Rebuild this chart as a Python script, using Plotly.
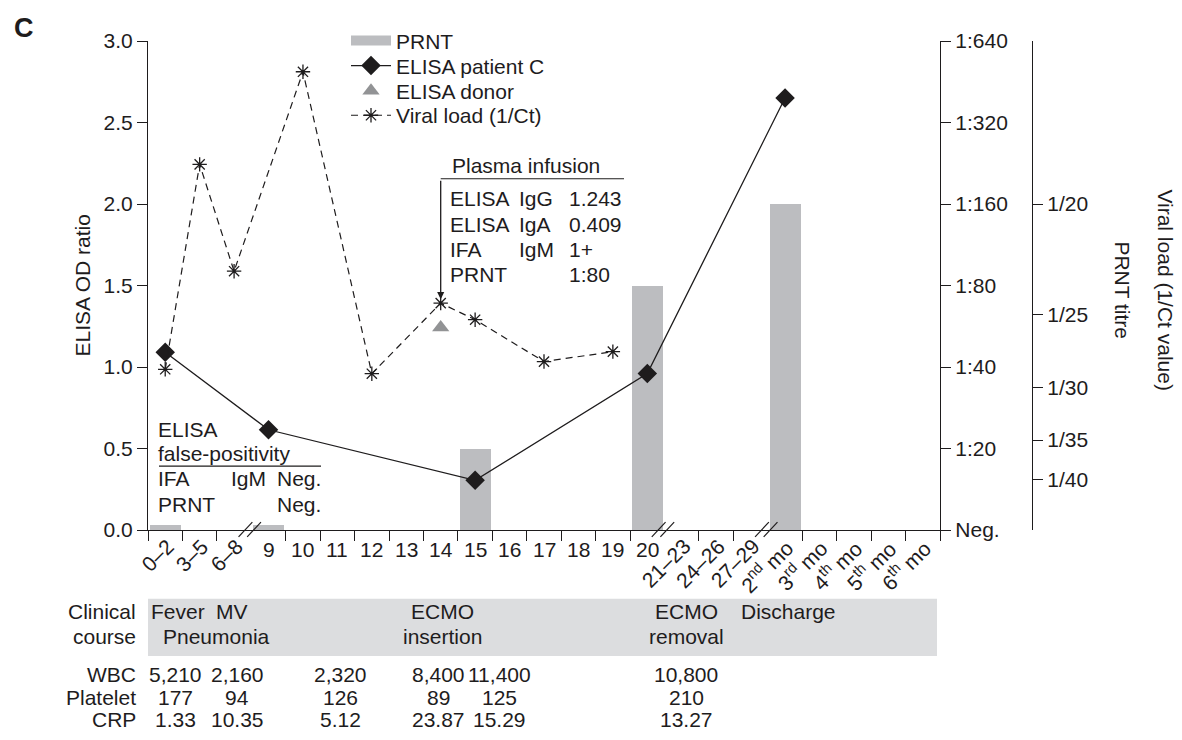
import math
import plotly.graph_objects as go

# ---------------- data ----------------
categories = ["0–2", "3–5", "6–8", "9", "10", "11", "12", "13", "14", "15", "16", "17",
              "18", "19", "20", "21–23", "24–26", "27–29", "2<sup>nd</sup> mo",
              "3<sup>rd</sup> mo", "4<sup>th</sup> mo", "5<sup>th</sup> mo", "6<sup>th</sup> mo"]
rotated_labels = ["0–2", "3–5", "6–8", "21–23", "24–26", "27–29", "2<sup>nd</sup> mo",
                  "3<sup>rd</sup> mo", "4<sup>th</sup> mo", "5<sup>th</sup> mo", "6<sup>th</sup> mo"]

# PRNT titre (reciprocal); 10 = "Neg." axis floor, Neg. results drawn as thin stubs
prnt_days = ["0–2", "9", "15", "20", "2<sup>nd</sup> mo"]
prnt_titre = [10.4, 10.4, 20, 80, 160]

elisa_days = ["0–2", "9", "15", "20", "2<sup>nd</sup> mo"]
elisa_od = [1.09, 0.615, 0.305, 0.96, 2.65]

donor_days = ["14"]
donor_od = [1.243]

viral_days = ["0–2", "3–5", "6–8", "10", "12", "14", "15", "17", "19"]
viral_inv_ct = [0.0350, 0.0536, 0.0439, 0.0620, 0.0346, 0.0410, 0.0395, 0.0357, 0.0366]

prnt_ticks = [10, 20, 40, 80, 160, 320, 640]
prnt_ticktext = ["Neg.", "1:20", "1:40", "1:80", "1:160", "1:320", "1:640"]
viral_ticks = [1 / 20, 1 / 25, 1 / 30, 1 / 35, 1 / 40]
viral_ticktext = ["1/20", "1/25", "1/30", "1/35", "1/40"]
elisa_ticks = [0.0, 0.5, 1.0, 1.5, 2.0, 2.5, 3.0]

plasma_rows = [["ELISA", "IgG", "1.243"], ["ELISA", "IgA", "0.409"],
               ["IFA", "IgM", "1+"], ["PRNT", "", "1:80"]]
false_pos_rows = [["IFA", "IgM", "Neg."], ["PRNT", "", "Neg."]]

course_row1 = ["Fever", "MV", "ECMO", "ECMO", "Discharge"]
course_row2 = ["Pneumonia", "insertion", "removal"]
lab_names = ["WBC", "Platelet", "CRP"]
wbc = ["5,210", "2,160", "2,320", "8,400", "11,400", "10,800"]
platelet = ["177", "94", "126", "89", "125", "210"]
crp = ["1.33", "10.35", "5.12", "23.87", "15.29", "13.27"]

# ---------------- layout constants ----------------
OFF = 8                      # page body margin of the browser
W, H = 1182 - OFF, 740 - OFF
L, R, T, B = 140, 142, 25, 210
PW, PH = W - L - R, H - T - B
INK = "#1e1c1d"
BAR = "#bcbdc0"
FONT = "Liberation Sans, Arial, sans-serif"
FS = 21


def px_x(px):  # screen pixel -> paper x
    return (px - OFF - L) / PW


def px_y(py):  # screen pixel -> paper y
    return (H - B - (py - OFF)) / PH


idx = {c: i for i, c in enumerate(categories)}
breaks = [2.5, 14.5, 17.5]
boundaries = [i - 0.5 for i in range(len(categories) + 1)]
tick_bounds = [b for b in boundaries if b not in breaks]
CAT_W = (940 - 148) / len(categories)


def px_idx(px):  # screen pixel -> x data units
    return (px - 148) / CAT_W - 0.5


# linear mapping of the 1/Ct axis onto the ELISA scale (0..3)
vl_a, vl_b = 67.6, -1.38
viral_range = [(0 - vl_b) / vl_a, (3 - vl_b) / vl_a]

fig = go.Figure()
fig.add_trace(go.Bar(
    x=[idx[d] for d in prnt_days], y=prnt_titre, yaxis="y", width=0.9,
    marker=dict(color=BAR, line=dict(width=0)), name="PRNT", showlegend=False))
# legend key for PRNT (wide grey swatch)
fig.add_trace(go.Scatter(x=[None], y=[None], yaxis="y", mode="lines", name="PRNT",
                         line=dict(color=BAR, width=10), legend="legend"))
fig.add_trace(go.Scatter(
    x=[idx[d] for d in elisa_days], y=elisa_od, yaxis="y2", mode="lines+markers",
    name="ELISA patient C", line=dict(color=INK, width=1.3),
    marker=dict(symbol="diamond", size=15, color=INK), legend="legend2"))
fig.add_trace(go.Scatter(
    x=[idx[d] for d in donor_days], y=donor_od, yaxis="y2", mode="markers",
    name="ELISA donor", marker=dict(symbol="triangle-up", size=15, color="#929395"),
    legend="legend3"))
fig.add_trace(go.Scatter(
    x=[idx[d] for d in viral_days], y=viral_inv_ct, yaxis="y3", mode="lines+markers",
    name="Viral load (1/Ct)", line=dict(color=INK, width=1.2, dash="7px,5px"),
    marker=dict(symbol="asterisk-open", size=12, color=INK, line=dict(width=1.3, color=INK)),
    legend="legend4"))

ax_common = dict(showline=True, linecolor=INK, linewidth=1.2, ticks="outside", ticklen=10,
                 tickwidth=1.2, tickcolor=INK, showgrid=False, zeroline=False,
                 tickfont=dict(size=FS, color=INK))


def leg(center_y):
    return dict(x=px_x(346), y=px_y(center_y - 20), xanchor="left", yanchor="top",
                bgcolor="rgba(0,0,0,0)", font=dict(size=FS, color=INK), itemwidth=40)


fig.update_layout(
    width=W, height=H, margin=dict(l=L, r=R, t=T, b=B),
    paper_bgcolor="white", plot_bgcolor="white",
    font=dict(family=FONT, size=FS, color=INK),
    bargap=0,
    xaxis=dict(domain=[0, px_x(940)], range=[-0.5, len(categories) - 0.5],
               tickmode="array", tickvals=tick_bounds, showticklabels=False, **ax_common),
    yaxis=dict(type="log", range=[1, math.log10(640)], side="right", anchor="x",
               tickmode="array", tickvals=prnt_ticks, ticktext=prnt_ticktext, **ax_common),
    yaxis2=dict(overlaying="y", side="left", anchor="x", range=[0, 3],
                tickmode="array", tickvals=elisa_ticks, tickformat=".1f", **ax_common),
    yaxis3=dict(overlaying="y", side="right", anchor="free", position=px_x(1032),
                range=viral_range, tickmode="array", tickvals=viral_ticks,
                ticktext=viral_ticktext, **ax_common),
    showlegend=True,
    legend=leg(32), legend2=leg(57.5), legend3=leg(83), legend4=leg(108),
)

ann = []


def txt(text, x, y, xref="x", yref="y2", xanchor="left", yanchor="middle", size=FS,
        angle=0, bold=False):
    ann.append(dict(text=f"<b>{text}</b>" if bold else text, x=x, y=y, xref=xref, yref=yref,
                    xanchor=xanchor, yanchor=yanchor, showarrow=False, textangle=angle,
                    font=dict(size=size, color=INK, family=FONT)))


# x tick labels
for c in categories:
    if c in rotated_labels:
        txt(c, idx[c] + 0.45, px_y(532), yref="paper", xanchor="right", yanchor="top", angle=-45)
    else:
        txt(c, idx[c], px_y(536), yref="paper", xanchor="center", yanchor="top")

# panel letter and axis titles
txt("C", px_x(12), px_y(20), xref="paper", yref="paper", size=27, bold=True)
txt("ELISA OD ratio", px_x(82), 0.5, xref="paper", yref="paper", xanchor="center", angle=-90)
txt("PRNT titre", px_x(1123), 0.49, xref="paper", yref="paper", xanchor="center", angle=90)
txt("Viral load (1/Ct value)", px_x(1166), 0.49, xref="paper", yref="paper",
    xanchor="center", angle=90)

# plasma infusion call-out
txt("Plasma infusion", px_idx(450), 2.235)
plasma_y = [2.034, 1.877, 1.722, 1.569]
plasma_cols = [px_idx(448), px_idx(517), px_idx(567)]
for row, yy in zip(plasma_rows, plasma_y):
    for cell, xx in zip(row, plasma_cols):
        if cell:
            txt(cell, xx, yy)
shapes = [dict(type="line", xref="x", yref="y2", x0=idx["14"], x1=px_idx(624),
               y0=2.155, y1=2.155, line=dict(color=INK, width=1.2))]
ann.append(dict(x=idx["14"], y=viral_inv_ct[viral_days.index("14")], xref="x", yref="y3",
                ax=0, ay=-124, text="", showarrow=True, arrowhead=2, arrowsize=1.1,
                arrowwidth=1.3, arrowcolor=INK, standoff=4))

# false positivity box
txt("ELISA", px_idx(156), 0.616)
txt("false-positivity", px_idx(156), 0.471)
shapes.append(dict(type="line", xref="x", yref="y2", x0=px_idx(159), x1=px_idx(321),
                   y0=0.392, y1=0.392, line=dict(color=INK, width=1.2)))
fp_cols = [px_idx(156), px_idx(229), px_idx(275)]
for row, yy in zip(false_pos_rows, [0.314, 0.157]):
    for cell, xx in zip(row, fp_cols):
        if cell:
            txt(cell, xx, yy)

# axis break marks
for b in breaks:
    for off in (-0.2, 0.05):
        shapes.append(dict(type="line", xref="x", yref="paper", x0=b + off - 0.17,
                           x1=b + off + 0.23, y0=px_y(537), y1=px_y(522),
                           line=dict(color=INK, width=1.2)))

# clinical course band
shapes.append(dict(type="rect", xref="paper", yref="paper", x0=0, x1=px_x(937),
                   y0=px_y(658), y1=px_y(600), fillcolor="#dcdddf", line=dict(width=0),
                   layer="below"))
row_y = [px_y(613), px_y(638), px_y(677), px_y(700), px_y(723)]
txt("Clinical", px_x(138), row_y[0], xref="paper", yref="paper", xanchor="right")
txt("course", px_x(138), row_y[1], xref="paper", yref="paper", xanchor="right")
course1_x = [px_idx(178), px_idx(232), px_idx(442), px_idx(686), px_idx(788)]
for t, xx in zip(course_row1, course1_x):
    txt(t, xx, row_y[0], yref="paper", xanchor="center")
course2_x = [px_idx(216), px_idx(442), px_idx(686)]
for t, xx in zip(course_row2, course2_x):
    txt(t, xx, row_y[1], yref="paper", xanchor="center")
lab_x = [px_idx(175), px_idx(237), px_idx(340), px_idx(438), px_idx(499), px_idx(686)]
for name, vals, yy in zip(lab_names, [wbc, platelet, crp], row_y[2:]):
    txt(name, px_x(138), yy, xref="paper", yref="paper", xanchor="right")
    for v, xx in zip(vals, lab_x):
        txt(v, xx, yy, yref="paper", xanchor="center")

fig.update_layout(annotations=ann, shapes=shapes)
fig.write_html("out.html")
